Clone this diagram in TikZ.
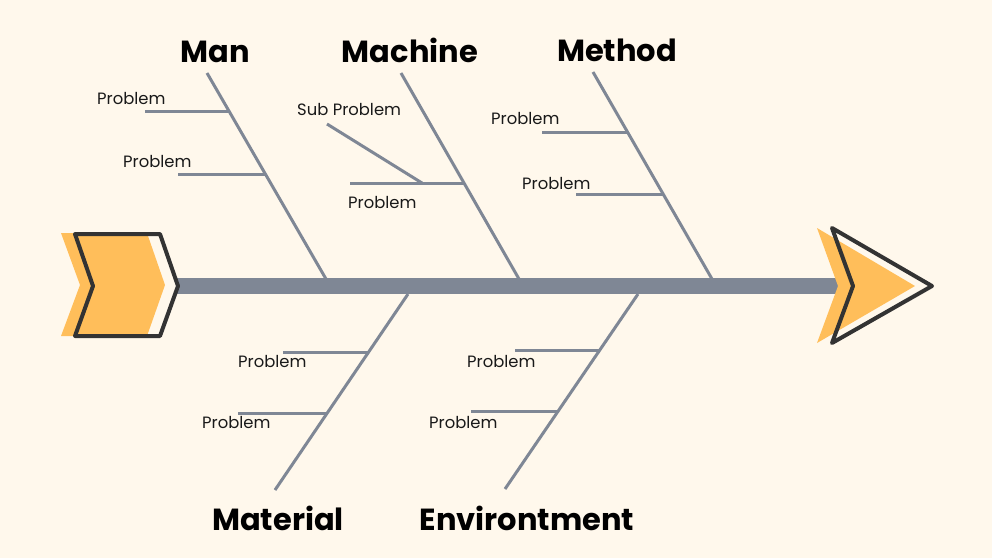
\documentclass[tikz,border=0pt]{standalone}
\usepackage{fontspec}
\setmainfont{Poppins}
\definecolor{paper}{HTML}{FFF8EC}
\definecolor{bonegray}{HTML}{7F8795}
\definecolor{fishorange}{HTML}{FFBE5A}
\definecolor{fishdark}{HTML}{333333}
\tikzset{
  bone/.style={draw=bonegray, line width=3pt},
  prob/.style={anchor=base west, inner sep=0pt, text=black!90, font=\fontsize{16.4}{18}\selectfont},
  cause/.style={anchor=base, inner sep=0pt, text=black, font=\fontsize{30.5}{33}\selectfont\bfseries},
  outline/.style={draw=fishdark, line width=4pt, line join=round}
}
\begin{document}
\begin{tikzpicture}[x=1pt, y=-1pt]
\fill[paper](0,0)rectangle(992,558);
\useasboundingbox(0,0)rectangle(992,558);
% spine
\coordinate (tail) at (176,286);
\coordinate (head) at (840,286);
\draw[bonegray, line width=16pt](tail)--(head);
% tail
\fill[fishorange](61,233)--(147,233)--(165,285)--(147,336)--(61,336)--(80,285)--cycle;
\draw[outline](75,234)--(160,234)--(178,286)--(160,336)--(75,336)--(93,286)--cycle;
% head
\fill[fishorange](817,228)--(915,286)--(817,343)--(838,286)--cycle;
\draw[outline](832,228)--(932,286)--(832,343)--(853,286)--cycle;
% big bones
\coordinate (manTop) at (207,73);
\coordinate (manFoot) at (326,279);
\coordinate (macTop) at (401,73);
\coordinate (macFoot) at (519,279);
\coordinate (metTop) at (593,72);
\coordinate (metFoot) at (712,279);
\coordinate (matTop) at (408,294);
\coordinate (matFoot) at (275,490);
\coordinate (envTop) at (638,294);
\coordinate (envFoot) at (505,489);
\foreach \b in {man,mac,met,mat,env}
{
    \draw[bone](\b Top)--(\b Foot);
}
\node[cause] (man) at (215,62) {Man};
\node[cause] (mac) at (410,62) {Machine};
\node[cause] (met) at (617,61) {Method};
\node[cause] (mat) at (278,530) {Material};
\node[cause] (env) at (527,530) {Environtment};
% small bones
\foreach \n/\xa/\xb/\yb/\lx/\ly in {manA/145/229/111/97/104, manB/178/266/174/123/167,
    macA/350/464/183/348/208, metA/542/627/132/491/124, metB/576/663/194/522/189,
    matA/283/369/352/238/367, matB/238/328/413/202/428, envA/515/600/350/467/367,
    envB/471/558/411/429/428}
{
    \coordinate (\n-end) at (\xa,\yb);
    \coordinate (\n-join) at (\xb,\yb);
    \draw[bone](\n-end)--(\n-join);
    \node[prob] (\n-lbl) at (\lx,\ly) {Problem};
}
% sub problem
\coordinate (subEnd) at (327,124);
\coordinate (subJoin) at (422,183);
\draw[bone](subEnd)--(subJoin);
\node[prob] (sub) at (297,115) {Sub Problem};
\end{tikzpicture}
\end{document}
